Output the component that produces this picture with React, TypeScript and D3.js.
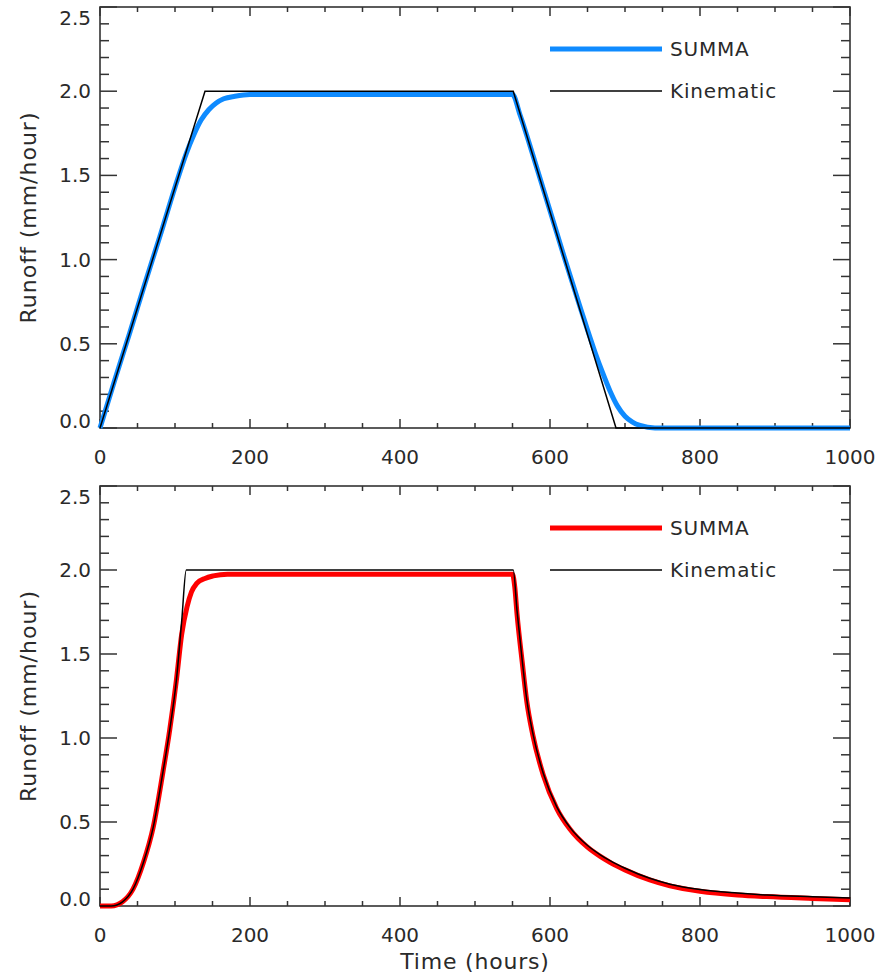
import React, { useEffect, useRef } from "react";
import * as d3 from "d3";

// Top panel: linear kinematic hydrograph
const topKinTime = [0, 140, 551, 688, 1000];
const topKinRunoff = [0, 2.0, 2.0, 0, 0];

const topSummaTime = [
  0, 20, 40, 60, 80, 100, 115, 125, 135, 145, 155, 165, 180, 200, 550, 560,
  580, 600, 620, 640, 660, 670, 680, 690, 700, 710, 720, 740, 1000,
];
const topSummaRunoff = [
  0, 0.29, 0.57, 0.86, 1.14, 1.43, 1.63, 1.74, 1.83, 1.89, 1.93, 1.955, 1.97,
  1.98, 1.98, 1.86, 1.58, 1.29, 1.0, 0.72, 0.45, 0.33, 0.22, 0.13, 0.07, 0.035,
  0.015, 0, 0,
];

// Bottom panel: non-linear kinematic
const botKinTime = [
  0, 15, 30, 44, 58, 71, 84, 93, 102, 109, 115, 551, 556, 563, 569, 577, 591,
  609, 627, 650, 667, 680, 700, 733, 760, 800, 850, 889, 950, 1000,
];
const botKinRunoff = [
  0, 0, 0.025, 0.1, 0.26, 0.47, 0.8, 1.05, 1.35, 1.7, 2.0, 2.0, 1.76, 1.46,
  1.23, 1.03, 0.79, 0.59, 0.465, 0.36, 0.305, 0.27, 0.225, 0.165, 0.13, 0.098,
  0.077, 0.065, 0.055, 0.048,
];

const botSummaTime = [
  0, 15, 30, 44, 58, 71, 84, 93, 102, 109, 116, 122, 129, 140, 151, 170, 550,
  553, 556, 563, 569, 577, 591, 609, 627, 650, 667, 680, 700, 733, 760, 800,
  850, 889, 950, 1000,
];
const botSummaRunoff = [
  0, 0, 0.025, 0.1, 0.26, 0.47, 0.8, 1.05, 1.35, 1.62, 1.78, 1.87, 1.92, 1.95,
  1.965, 1.975, 1.975, 1.9, 1.74, 1.45, 1.22, 1.02, 0.78, 0.58, 0.455, 0.35,
  0.295, 0.26, 0.215, 0.155, 0.12, 0.088, 0.066, 0.056, 0.045, 0.037,
];

const xMajorTicks = [0, 200, 400, 600, 800, 1000];
const yMajorTicks = [0, 0.5, 1.0, 1.5, 2.0, 2.5];
const legendLabels = ["SUMMA", "Kinematic"];

const FONT = "'DejaVu Sans', sans-serif";
const TEXT = "#2a2a2a";

const App = () => {
  const svgRef = useRef<SVGSVGElement>(null);

  useEffect(() => {
    const width = 890;
    const height = 980;
    const left = 100;
    const right = 850;

    const svg = d3.select(svgRef.current);
    svg.selectAll("*").remove();
    svg.attr("width", width).attr("height", height);

    svg
      .append("rect")
      .attr("width", width)
      .attr("height", height)
      .attr("fill", "#fff");

    const panels = [
      {
        top: 7,
        bottom: 428,
        color: "#0f8bff",
        summa: d3.zip(topSummaTime, topSummaRunoff),
        kin: d3.zip(topKinTime, topKinRunoff),
        kinCurve: d3.curveLinear,
        showTitle: false,
      },
      {
        top: 486,
        bottom: 906,
        color: "#ff0000",
        summa: d3.zip(botSummaTime, botSummaRunoff),
        kin: d3.zip(botKinTime, botKinRunoff),
        kinCurve: d3.curveMonotoneX,
        showTitle: true,
      },
    ];

    const x = d3.scaleLinear().domain([0, 1000]).range([left, right]);

    panels.forEach((p) => {
      const y = d3.scaleLinear().domain([0, 2.5]).range([p.bottom, p.top]);
      const g = svg.append("g");
      const axisColor = "#333";

      // frame
      g.append("rect")
        .attr("x", left)
        .attr("y", p.top)
        .attr("width", right - left)
        .attr("height", p.bottom - p.top)
        .attr("fill", "none")
        .attr("stroke", axisColor)
        .attr("stroke-width", 1.6);

      // x ticks (bottom and top)
      d3.range(0, 1001, 50).forEach((t) => {
        const len = t % 200 === 0 ? 9 : 5;
        [
          [p.bottom, p.bottom - len],
          [p.top, p.top + len],
        ].forEach(([y1, y2]) => {
          g.append("line")
            .attr("x1", x(t))
            .attr("x2", x(t))
            .attr("y1", y1)
            .attr("y2", y2)
            .attr("stroke", axisColor)
            .attr("stroke-width", 1.5);
        });
      });

      // y ticks (left and right)
      d3.range(0, 26).forEach((i) => {
        const v = i / 10;
        const len = i % 5 === 0 ? 17 : 9;
        [
          [left, left + len],
          [right, right - len],
        ].forEach(([x1, x2]) => {
          g.append("line")
            .attr("x1", x1)
            .attr("x2", x2)
            .attr("y1", y(v))
            .attr("y2", y(v))
            .attr("stroke", axisColor)
            .attr("stroke-width", 1.5);
        });
      });

      // x tick labels
      g.selectAll(".xl")
        .data(xMajorTicks)
        .enter()
        .append("text")
        .attr("x", (d) => x(d))
        .attr("y", p.bottom + 36)
        .attr("text-anchor", "middle")
        .attr("font-family", FONT)
        .attr("font-size", 20)
        .attr("fill", TEXT)
        .text((d) => d);

      // y tick labels (edge labels nudged inwards as in the original)
      g.selectAll(".yl")
        .data(yMajorTicks)
        .enter()
        .append("text")
        .attr("x", 91)
        .attr("y", (d) => y(d) + 7 + (d === 0 ? -7 : d === 2.5 ? 11 : 0))
        .attr("text-anchor", "end")
        .attr("font-family", FONT)
        .attr("font-size", 20)
        .attr("fill", TEXT)
        .text((d) => d.toFixed(1));

      // y axis title
      g.append("text")
        .attr("transform", `translate(36,${(p.top + p.bottom) / 2}) rotate(-90)`)
        .attr("text-anchor", "middle")
        .attr("font-family", FONT)
        .attr("font-size", 22)
        .attr("letter-spacing", 1)
        .attr("fill", TEXT)
        .text("Runoff (mm/hour)");

      const line = (curve: d3.CurveFactory) =>
        d3
          .line<[number, number]>()
          .x((d) => x(d[0]))
          .y((d) => y(d[1]))
          .curve(curve);

      // SUMMA (thick) then Kinematic (thin) on top
      g.append("path")
        .datum(p.summa as [number, number][])
        .attr("fill", "none")
        .attr("stroke", p.color)
        .attr("stroke-width", 5)
        .attr("stroke-linejoin", "round")
        .attr("d", line(d3.curveMonotoneX));

      g.append("path")
        .datum(p.kin as [number, number][])
        .attr("fill", "none")
        .attr("stroke", "#000")
        .attr("stroke-width", 1.5)
        .attr("d", line(p.kinCurve));

      // legend
      legendLabels.forEach((label, i) => {
        const ly = p.top + 42 + i * 42;
        g.append("line")
          .attr("x1", 550)
          .attr("x2", 662)
          .attr("y1", ly)
          .attr("y2", ly)
          .attr("stroke", i === 0 ? p.color : "#000")
          .attr("stroke-width", i === 0 ? 5 : 1.5);
        g.append("text")
          .attr("x", 670)
          .attr("y", ly + 7)
          .attr("font-family", FONT)
          .attr("font-size", 20)
          .attr("letter-spacing", 0.8)
          .attr("fill", TEXT)
          .text(label);
      });

      if (p.showTitle) {
        g.append("text")
          .attr("x", (left + right) / 2)
          .attr("y", 969)
          .attr("text-anchor", "middle")
          .attr("font-family", FONT)
          .attr("font-size", 22)
          .attr("letter-spacing", 0.8)
          .attr("fill", TEXT)
          .text("Time (hours)");
      }
    });
  }, []);

  return (
    <svg
      ref={svgRef}
      style={{ position: "absolute", left: 0, top: 0, display: "block" }}
    ></svg>
  );
};

export default App;
